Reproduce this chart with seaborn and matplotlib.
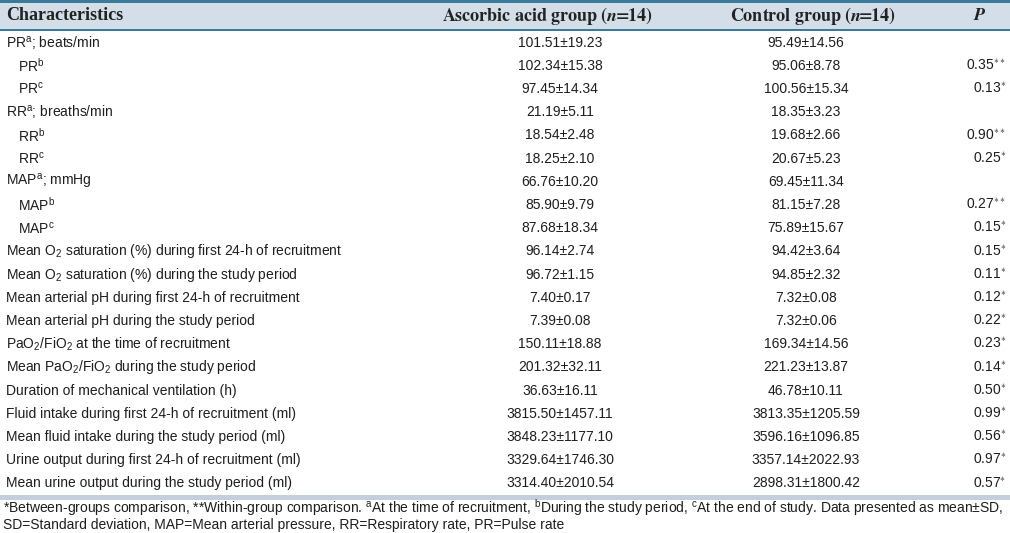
import numpy as np
import matplotlib
matplotlib.use("Agg")
import matplotlib.pyplot as plt
import seaborn as sns

sns.set_theme(style="white")
plt.rcParams['font.family'] = ['Liberation Sans', 'DejaVu Sans']
plt.rcParams['mathtext.fontset'] = 'custom'
plt.rcParams['mathtext.rm'] = 'Liberation Sans'
plt.rcParams['mathtext.it'] = 'Liberation Sans:italic'
plt.rcParams['mathtext.bf'] = 'Liberation Sans:bold'

# table content
headers = ["Characteristics",
           r"$\mathbf{Ascorbic\ acid\ group\ (}\mathbfit{n}\!\!\mathbf{=}\!\!\mathbf{14)}$",
           r"$\mathbf{Control\ group\ (}\mathbfit{n}\!\!\mathbf{=}\!\!\mathbf{14)}$",
           r"$\mathbfit{P}$"]

characteristics = [
    r"PR$^\mathrm{a}$; beats/min", r"PR$^\mathrm{b}$", r"PR$^\mathrm{c}$",
    r"RR$^\mathrm{a}$; breaths/min", r"RR$^\mathrm{b}$", r"RR$^\mathrm{c}$",
    r"MAP$^\mathrm{a}$; mmHg", r"MAP$^\mathrm{b}$", r"MAP$^\mathrm{c}$",
    r"Mean O$_\mathrm{2}$ saturation (%) during first 24-h of recruitment",
    r"Mean O$_\mathrm{2}$ saturation (%) during the study period",
    "Mean arterial pH during first 24-h of recruitment",
    "Mean arterial pH during the study period",
    r"PaO$_\mathrm{2}$/FiO$_\mathrm{2}$ at the time of recruitment",
    r"Mean PaO$_\mathrm{2}$/FiO$_\mathrm{2}$ during the study period",
    "Duration of mechanical ventilation (h)",
    "Fluid intake during first 24-h of recruitment (ml)",
    "Mean fluid intake during the study period (ml)",
    "Urine output during first 24-h of recruitment (ml)",
    "Mean urine output during the study period (ml)",
]
indented = [False, True, True, False, True, True, False, True, True,
            False, False, False, False, False, False, False, False, False, False, False]

ascorbic = ["101.51±19.23", "102.34±15.38", "97.45±14.34",
            "21.19±5.11", "18.54±2.48", "18.25±2.10",
            "66.76±10.20", "85.90±9.79", "87.68±18.34",
            "96.14±2.74", "96.72±1.15", "7.40±0.17", "7.39±0.08",
            "150.11±18.88", "201.32±32.11", "36.63±16.11",
            "3815.50±1457.11", "3848.23±1177.10", "3329.64±1746.30", "3314.40±2010.54"]
control = ["95.49±14.56", "95.06±8.78", "100.56±15.34",
           "18.35±3.23", "19.68±2.66", "20.67±5.23",
           "69.45±11.34", "81.15±7.28", "75.89±15.67",
           "94.42±3.64", "94.85±2.32", "7.32±0.08", "7.32±0.06",
           "169.34±14.56", "221.23±13.87", "46.78±10.11",
           "3813.35±1205.59", "3596.16±1096.85", "3357.14±2022.93", "2898.31±1800.42"]
p_values = ["", "0.35**", "0.13*", "", "0.90**", "0.25*", "", "0.27**", "0.15*",
            "0.15*", "0.11*", "0.12*", "0.22*", "0.23*", "0.14*", "0.50*",
            "0.99*", "0.56*", "0.97*", "0.57*"]

footnote1 = (r"*Between-groups comparison, **Within-group comparison. $^\mathrm{a}$At the time of recruitment, "
             r"$^\mathrm{b}$During the study period, $^\mathrm{c}$At the end of study. Data presented as mean±SD,")
footnote2 = "SD=Standard deviation, MAP=Mean arterial pressure, RR=Respiratory rate, PR=Pulse rate"

teal = "#3a7b98"
header_bg = "#d4dee8"
sep_col = "#c3d0dc"
txt_col = "#1e1e1e"

fig = plt.figure(figsize=(10.1, 5.33), dpi=100)
ax = fig.add_axes([0, 0, 1, 1])
ax.set_xlim(0, 1010)
ax.set_ylim(533, 0)
ax.axis("off")

# header band
ax.axhspan(0, 3, color=teal, lw=0)
ax.axhspan(3, 28.5, color=header_bg, lw=0)
ax.axhspan(28.5, 31, color=teal, lw=0)

hy = 16
ax.text(6, hy, headers[0], fontsize=13, fontweight="bold", family="Liberation Serif",
        va="center", ha="left", color="#222222")
ax.text(547, hy, headers[1], fontsize=13, va="center", ha="center", math_fontfamily="stix", color="#222222")
ax.text(813, hy, headers[2], fontsize=13, va="center", ha="center", math_fontfamily="stix", color="#222222")
ax.text(980, hy, headers[3], fontsize=13, va="center", ha="center", math_fontfamily="stix", color="#222222")

# body rows
top = 31
row_h = (495 - 31) / len(characteristics)
for i, (c, a, ctl, p) in enumerate(zip(characteristics, ascorbic, control, p_values)):
    y = top + (i + 0.5) * row_h
    x0 = 18 if indented[i] else 6
    ax.text(x0, y, c, fontsize=10, va="center", ha="left", color=txt_col)
    ax.text(560, y, a, fontsize=10, va="center", ha="center", color=txt_col)
    ax.text(806, y, ctl, fontsize=10, va="center", ha="center", color=txt_col)
    if p:
        base = p.rstrip("*")
        stars = p[len(base):]
        ax.text(1006, y, base + r"$^{" + stars.replace("*", r"\ast") + "}$", fontsize=10,
                va="center", ha="right", color=txt_col)

ax.axhspan(495, 500, color=sep_col, lw=0)

# footnotes
ax.text(3, 508, footnote1, fontsize=10, va="center", ha="left", color=txt_col)
ax.text(3, 525, footnote2, fontsize=10, va="center", ha="left", color=txt_col)

fig.savefig("out.png", dpi=100)
